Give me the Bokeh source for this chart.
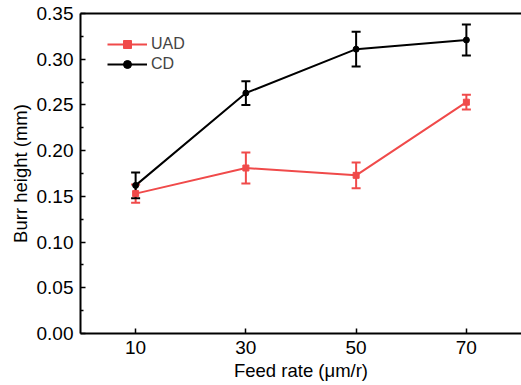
from bokeh.plotting import figure
from bokeh.models import (ColumnDataSource, Whisker, TeeHead, LinearAxis, Legend,
                          LegendItem, FixedTicker, NumeralTickFormatter, Range1d, Title)
from bokeh.embed import file_html
from bokeh.resources import INLINE

feed_rate = [10, 30, 50, 70]
uad_mean = [0.153, 0.181, 0.173, 0.253]
uad_err = [0.010, 0.017, 0.014, 0.008]
cd_mean = [0.162, 0.263, 0.311, 0.321]
cd_err = [0.014, 0.013, 0.019, 0.017]
y_ticks = [0.0, 0.05, 0.10, 0.15, 0.20, 0.25, 0.30, 0.35]
y_minor = [0.025, 0.075, 0.125, 0.175, 0.225, 0.275, 0.325]

RED = "#f04a4a"
BLACK = "#000000"
FONT = "Liberation Sans"

p = figure(width=521, height=385, output_backend="svg", toolbar_location=None,
           x_range=Range1d(0, 80), y_range=Range1d(0, 0.35),
           min_border_left=80, min_border_top=13, min_border_bottom=52, min_border_right=0)
p.outline_line_color = None
p.outline_line_alpha = 0
p.outline_line_width = 0
p.background_fill_color = "white"
p.border_fill_color = "white"
p.xgrid.visible = False
p.ygrid.visible = False

for ax in (p.xaxis[0], p.yaxis[0]):
    ax.axis_line_width = 2
    ax.axis_line_color = "black"
    ax.major_tick_line_width = 1.5
    ax.minor_tick_line_width = 1.5
    ax.major_tick_in = 5
    ax.major_tick_out = 0
    ax.minor_tick_in = 3
    ax.minor_tick_out = 0
    ax.major_label_text_font = FONT
    ax.major_label_text_font_size = "19px"
    ax.major_label_text_color = "black"
    ax.axis_label_text_font = FONT
    ax.axis_label_text_font_size = "18.5px"
    ax.axis_label_text_font_style = "normal"
    ax.axis_label_text_color = "black"

p.xaxis.ticker = FixedTicker(ticks=feed_rate)
p.xaxis.minor_tick_line_color = None
p.xaxis.axis_label = "Feed rate (μm/r)"
p.xaxis.major_label_standoff = 7
p.xaxis.axis_label_standoff = 3

p.yaxis.ticker = FixedTicker(ticks=y_ticks, minor_ticks=y_minor)
p.yaxis.formatter = NumeralTickFormatter(format="0.00")
p.yaxis.major_label_standoff = 7

ytitle = Title(text="Burr height (mm)", align="center", offset=-20, standoff=6,
               text_font=FONT, text_font_size="18.5px", text_font_style="normal",
               text_color="black")
p.add_layout(ytitle, "left")

top = LinearAxis(ticker=FixedTicker(ticks=[]), major_tick_line_color=None,
                 minor_tick_line_color=None, major_label_text_font_size="0px",
                 axis_line_width=2)
top.major_label_text_color = None
p.add_layout(top, "above")

uad_src = ColumnDataSource(dict(x=feed_rate, y=uad_mean,
                                lo=[m - e for m, e in zip(uad_mean, uad_err)],
                                hi=[m + e for m, e in zip(uad_mean, uad_err)]))
cd_src = ColumnDataSource(dict(x=feed_rate, y=cd_mean,
                               lo=[m - e for m, e in zip(cd_mean, cd_err)],
                               hi=[m + e for m, e in zip(cd_mean, cd_err)]))

uad_line = p.line("x", "y", source=uad_src, line_color=RED, line_width=2)
uad_mk = p.scatter("x", "y", source=uad_src, marker="square", size=6, color=RED)
p.add_layout(Whisker(base="x", lower="lo", upper="hi", source=uad_src, line_color=RED, line_width=2,
                     upper_head=TeeHead(size=9, line_color=RED, line_width=2),
                     lower_head=TeeHead(size=9, line_color=RED, line_width=2)))

cd_line = p.line("x", "y", source=cd_src, line_color=BLACK, line_width=2)
cd_mk = p.scatter("x", "y", source=cd_src, marker="circle", size=6, color=BLACK)
p.add_layout(Whisker(base="x", lower="lo", upper="hi", source=cd_src, line_color=BLACK, line_width=2,
                     upper_head=TeeHead(size=9, line_color=BLACK, line_width=2),
                     lower_head=TeeHead(size=9, line_color=BLACK, line_width=2)))

legend = Legend(items=[LegendItem(label="UAD", renderers=[uad_line, uad_mk]),
                       LegendItem(label="CD", renderers=[cd_line, cd_mk])],
                location=(27, 259), border_line_color=None, background_fill_alpha=0,
                padding=0, margin=0, spacing=0, glyph_width=40, glyph_height=20,
                label_height=20, label_standoff=4,
                label_text_font=FONT, label_text_font_size="16px")
p.add_layout(legend, "center")

open("out.html", "w").write(file_html(p, INLINE))
